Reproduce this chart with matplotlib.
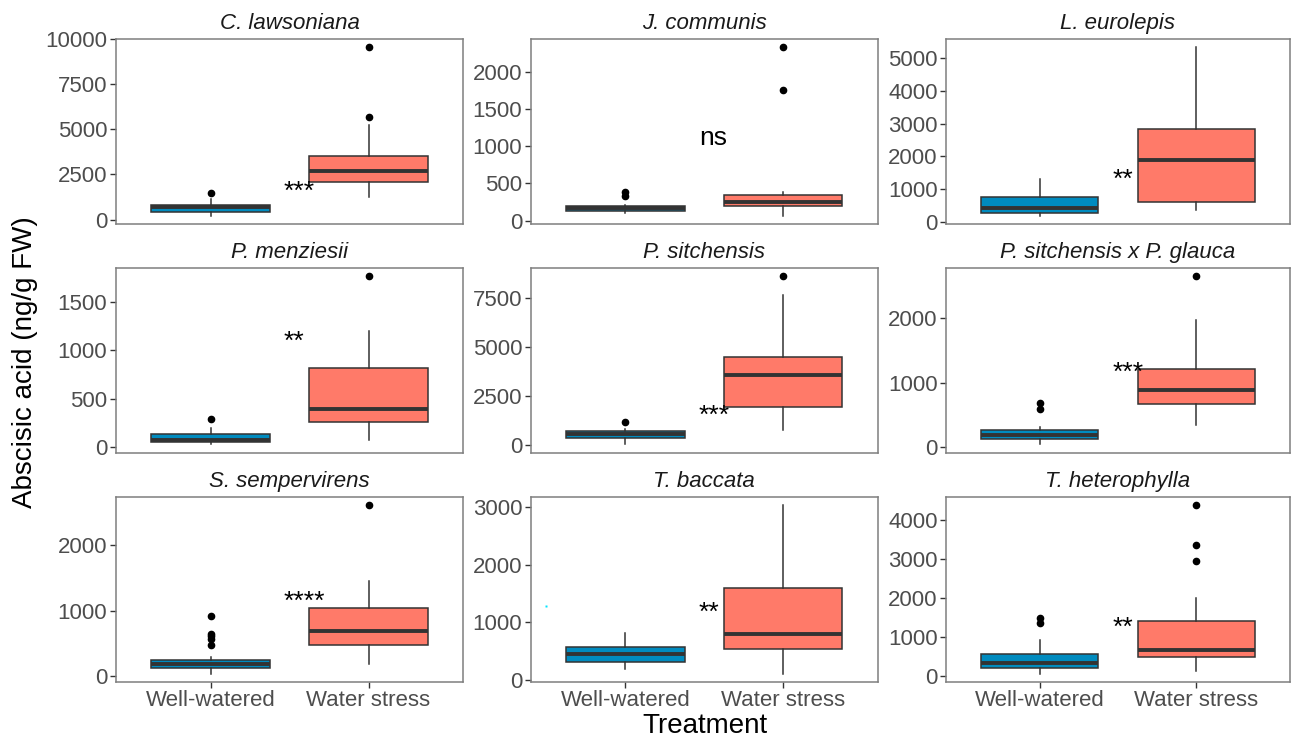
import matplotlib
matplotlib.use("Agg")
import matplotlib.pyplot as plt
from matplotlib import transforms

plt.rcParams['font.family'] = ['Liberation Sans', 'DejaVu Sans']

species = ["C. lawsoniana", "J. communis", "L. eurolepis",
           "P. menziesii", "P. sitchensis", "P. sitchensis x P. glauca",
           "S. sempervirens", "T. baccata", "T. heterophylla"]
treatments = ["Well-watered", "Water stress"]

# box statistics per species: [Well-watered, Water stress]
q1 = [[430, 2080], [130, 192], [286, 613],
      [45, 259], [356, 1951], [124, 670],
      [133, 474], [317, 548], [206, 480]]
median = [[700, 2665], [175, 246], [440, 1902],
          [69, 387], [540, 3580], [196, 892],
          [194, 689], [462, 796], [334, 677]]
q3 = [[827, 3529], [201, 344], [746, 2822],
      [131, 819], [696, 4480], [268, 1211],
      [245, 1041], [577, 1604], [557, 1422]]
whisker_low = [[220, 1250], [103, 67], [194, 378],
               [24, 66], [34, 764], [46, 345],
               [41, 189], [190, 115], [60, 128]]
whisker_high = [[1158, 5239], [215, 380], [1299, 5337],
                [197, 1203], [797, 7636], [309, 1969],
                [291, 1459], [825, 3029], [934, 2004]]
outliers = [[[1470], [5699, 9559]],
            [[327, 380], [1758, 2340]],
            [[], []],
            [[283], [1773]],
            [[1171], [8620]],
            [[593, 680], [2649]],
            [[485, 577, 612, 643, 929], [2617]],
            [[], []],
            [[1362, 1482], [2955, 3358, 4385]]]

sig_labels = ["***", "ns", "**", "**", "***", "***", "****", "**", "**"]
sig_y = [1893, 1110, 1462, 1158, 1782, 1247, 1240, 1281, 1396]

y_ticks = [[0, 2500, 5000, 7500, 10000],
           [0, 500, 1000, 1500, 2000],
           [0, 1000, 2000, 3000, 4000, 5000],
           [0, 500, 1000, 1500],
           [0, 2500, 5000, 7500],
           [0, 1000, 2000],
           [0, 1000, 2000],
           [0, 1000, 2000, 3000],
           [0, 1000, 2000, 3000, 4000]]

colors = ["#008BBF", "#FF7A69"]
dark = "#333333"

W, H = 1291, 740
fig = plt.figure(figsize=(W / 100, H / 100), dpi=100)

lefts = [115.7, 530.7, 946.0]
rights = [463.3, 878.0, 1290.0]
tops = [38.5, 267.7, 496.7]
bottoms = [224.0, 452.7, 682.0]

for i, sp in enumerate(species):
    r, c = divmod(i, 3)
    ax = fig.add_axes([lefts[c] / W, 1 - bottoms[r] / H,
                       (rights[c] - lefts[c]) / W, (bottoms[r] - tops[r]) / H])
    stats = []
    for j in range(2):
        stats.append(dict(med=median[i][j], q1=q1[i][j], q3=q3[i][j],
                          whislo=whisker_low[i][j], whishi=whisker_high[i][j],
                          fliers=outliers[i][j]))
    bp = ax.bxp(stats, positions=[1, 2], widths=0.75, showcaps=False,
                patch_artist=True,
                boxprops=dict(edgecolor=dark, linewidth=1.1),
                medianprops=dict(color=dark, linewidth=2.8, solid_capstyle='butt'),
                whiskerprops=dict(color=dark, linewidth=1.1),
                flierprops=dict(marker='o', markerfacecolor='black',
                                markeredgecolor='black', markersize=4.5))
    for patch, col in zip(bp['boxes'], colors):
        patch.set_facecolor(col)
    # y limits with ggplot-style 5% expansion
    vals = [whisker_low[i][0], whisker_low[i][1], whisker_high[i][0], whisker_high[i][1]]
    for j in range(2):
        vals += outliers[i][j]
    lo, hi = min(vals), max(vals)
    rng = hi - lo
    ax.set_ylim(lo - 0.05 * rng, hi + 0.05 * rng)
    ax.set_xlim(0.4, 2.6)
    ax.set_yticks(y_ticks[i])
    ax.set_yticklabels([str(t) for t in y_ticks[i]])
    ax.tick_params(axis='y', labelsize=16, labelcolor='#4D4D4D', color='#333333',
                   length=4, width=1, pad=2)
    if r == 2:
        ax.set_xticks([1, 2])
        ax.set_xticklabels(treatments)
        ax.tick_params(axis='x', labelsize=16, labelcolor='#4D4D4D', color='#333333',
                       length=4, width=1, pad=2)
    else:
        ax.set_xticks([])
    for s in ax.spines.values():
        s.set_color('#7F7F7F')
        s.set_linewidth(1.1)
    ax.set_title(sp, fontsize=16, style='italic', color='#1A1A1A', pad=7)
    dy = -4.5 if sig_labels[i] != "ns" else 0
    tr = transforms.offset_copy(ax.transData, fig=fig, x=0, y=dy, units='points')
    ax.text(1.465, sig_y[i], sig_labels[i], fontsize=19, ha='left',
            va='center', color='black', transform=tr)
    if i == 7:
        ax.plot([0.497], [1292], marker='s', ms=1.5, color='#00E5FF', mec='none')

fig.text(25 / W, 1 - 362 / H, "Abscisic acid (ng/g FW)", rotation=90,
         fontsize=20, ha='center', va='center', color='black')
fig.text(705 / W, 1 - 726 / H, "Treatment", fontsize=20, ha='center',
         va='center', color='black')

fig.savefig("out.png", dpi=100)
